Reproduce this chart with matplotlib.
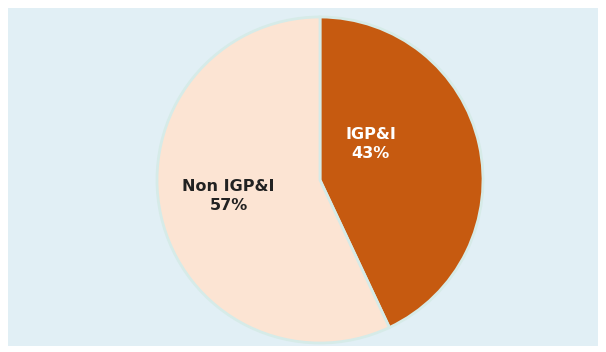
import matplotlib
matplotlib.use("Agg")
import matplotlib.pyplot as plt
from matplotlib.patches import Rectangle

labels = ['IGP&I', 'Non IGP&I']
shares = [43, 57]
colors = ['#c65a10', '#fce4d3']
text_colors = ['white', '#222222']
# label anchor points, in pie radius units
label_pos = [(0.31, 0.22), (-0.56, -0.10)]

W, H = 606, 352
fig = plt.figure(figsize=(W / 100, H / 100), dpi=100)
fig.patch.set_facecolor('white')

# light blue panel behind the pie
fig.patches.append(Rectangle((8 / W, 6 / H), 590 / W, 338 / H,
                             transform=fig.transFigure, facecolor='#e1eff5',
                             edgecolor='none', zorder=-10))

cx, cy, r = 320, 180, 163
ax = fig.add_axes([(cx - r) / W, (H - cy - r) / H, 2 * r / W, 2 * r / H])
ax.set_facecolor('none')

wedges, _ = ax.pie(shares, colors=colors, startangle=90, counterclock=False,
                   radius=1.0, frame=False,
                   wedgeprops=dict(edgecolor='#d6ebe8', linewidth=2))
ax.set_xlim(-1.0, 1.0)
ax.set_ylim(-1.0, 1.0)
ax.set_aspect('auto')
ax.axis('off')

for lab, val, (x, y), c in zip(labels, shares, label_pos, text_colors):
    ax.text(x, y, f'{lab}\n{val}%', ha='center', va='center', color=c,
            fontsize=11.5, fontweight='bold', family='DejaVu Sans',
            linespacing=1.35)

fig.savefig('out.png', dpi=100)
